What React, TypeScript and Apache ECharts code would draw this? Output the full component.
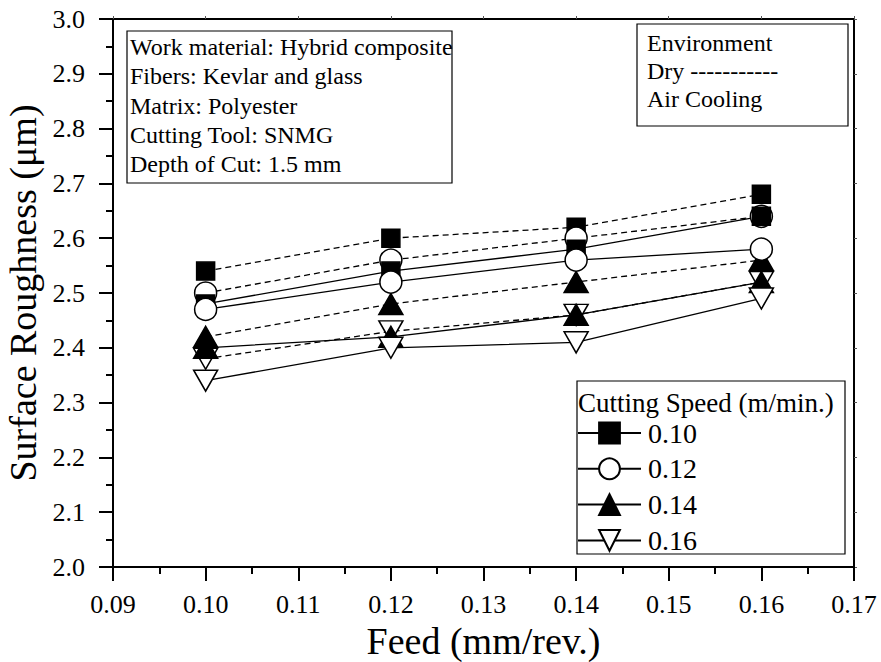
import React, { useEffect, useRef } from "react";
import * as echarts from "echarts";

const feeds = [0.10, 0.12, 0.14, 0.16];
const speedLabels = ["0.10", "0.12", "0.14", "0.16"];

// Dry (dashed)
const dry010 = [2.54, 2.60, 2.62, 2.68];
const dry012 = [2.50, 2.56, 2.60, 2.64];
const dry014 = [2.42, 2.48, 2.52, 2.56];
const dry016 = [2.38, 2.43, 2.46, 2.52];
// Air cooling (solid)
const air010 = [2.48, 2.54, 2.58, 2.64];
const air012 = [2.47, 2.52, 2.56, 2.58];
const air014 = [2.40, 2.42, 2.46, 2.52];
const air016 = [2.34, 2.40, 2.41, 2.49];

const infoLines = [
  "Work material: Hybrid composite",
  "Fibers: Kevlar and glass",
  "Matrix: Polyester",
  "Cutting Tool: SNMG",
  "Depth of Cut: 1.5 mm",
];
const envLines = ["Environment", "Dry -----------", "Air Cooling"];
const legendTitle = "Cutting Speed (m/min.)";

const FONT = "Liberation Serif";

type Marker = { symbol: string; size: any; rotate: number; fill: string };
const markers: Marker[] = [
  { symbol: "rect", size: 18, rotate: 0, fill: "#000" },
  { symbol: "circle", size: 22, rotate: 0, fill: "#fff" },
  { symbol: "triangle", size: [24, 21], rotate: 0, fill: "#000" },
  { symbol: "triangle", size: [24, 21], rotate: 180, fill: "#fff" },
];

function makeSeries(name: string, values: number[], m: Marker, dashed: boolean) {
  return {
    name,
    type: "line",
    data: feeds.map((f, i) => [f, values[i]]),
    symbol: m.symbol,
    symbolSize: m.size,
    symbolRotate: m.rotate,
    showAllSymbol: true,
    lineStyle: { color: "#000", width: 1.3, type: dashed ? [6, 4] : "solid" },
    itemStyle: { color: m.fill, borderColor: "#000", borderWidth: 1.5, opacity: 1 },
    emphasis: { disabled: true },
  };
}

function txt(t: string, x: number, y: number, size: number) {
  return {
    type: "text",
    x,
    y,
    z: 10,
    style: {
      text: t,
      fontSize: size,
      fontFamily: FONT,
      fill: "#000",
      verticalAlign: "middle",
      align: "left",
    },
  };
}

export default function App() {
  const ref = useRef<HTMLDivElement>(null);
  useEffect(() => {
    if (!ref.current) return;
    const chart = echarts.init(ref.current, undefined, { renderer: "svg" });
    const dryArr = [dry010, dry012, dry014, dry016];
    const airArr = [air010, air012, air014, air016];
    const series: any[] = [];
    dryArr.forEach((v, i) => series.push(makeSeries(speedLabels[i] + " Dry", v, markers[i], true)));
    airArr.forEach((v, i) => series.push(makeSeries(speedLabels[i], v, markers[i], false)));

    const graphics: any[] = [];
    graphics.push({
      type: "rect",
      shape: { x: 127, y: 31, width: 325, height: 152 },
      style: { fill: "none", stroke: "#000", lineWidth: 1.2 },
      z: 10,
    });
    infoLines.forEach((t, i) => graphics.push(txt(t, 130, 47 + i * 29.3, 24)));
    graphics.push({
      type: "rect",
      shape: { x: 637, y: 24, width: 211, height: 102 },
      style: { fill: "none", stroke: "#000", lineWidth: 1.2 },
      z: 10,
    });
    envLines.forEach((t, i) => graphics.push(txt(t, 647, 43 + i * 28, 24)));
    graphics.push({
      type: "rect",
      shape: { x: 577, y: 381, width: 268, height: 173 },
      style: { fill: "#fff", stroke: "#000", lineWidth: 1.2 },
      z: 5,
    });
    graphics.push(txt(legendTitle, 578, 403, 27));

    const option: any = {
      animation: false,
      backgroundColor: "#fff",
      textStyle: { fontFamily: FONT },
      grid: { left: 113, right: 27, top: 19, bottom: 95, containLabel: false, outerBoundsMode: "none" },
      legend: {
        data: speedLabels,
        orient: "vertical",
        left: 577,
        top: 419,
        itemWidth: 63,
        itemHeight: 26,
        itemGap: 7.8,
        padding: 0,
        z: 20,
        textStyle: {
          fontSize: 28,
          fontFamily: FONT,
          color: "#000",
          padding: [0, 0, 0, 2],
        },
        selectedMode: false,
      },
      xAxis: [
        {
          type: "value",
          min: 0.09,
          max: 0.17,
          interval: 0.01,
          name: "Feed (mm/rev.)",
          nameLocation: "middle",
          nameGap: 53,
          nameTextStyle: { fontSize: 38, fontFamily: FONT, color: "#000" },
          axisLine: { show: true, onZero: false, lineStyle: { color: "#000", width: 2 } },
          axisTick: { show: true, inside: false, length: 14, lineStyle: { color: "#000", width: 2 } },
          minorTick: { show: true, splitNumber: 2, length: 7, lineStyle: { color: "#000", width: 2 } },
          axisLabel: {
            fontSize: 26,
            fontFamily: FONT,
            color: "#000",
            margin: 24,
            formatter: (v: number) => v.toFixed(2),
          },
          splitLine: { show: false },
        },
        {
          type: "value",
          position: "top",
          min: 0.09,
          max: 0.17,
          interval: 0.01,
          axisLine: { show: true, onZero: false, lineStyle: { color: "#000", width: 2 } },
          axisTick: { show: true, inside: false, length: 3, lineStyle: { color: "#555", width: 1 } },
          axisLabel: { show: false },
          splitLine: { show: false },
        },
      ],
      yAxis: [
        {
          type: "value",
          min: 2.0,
          max: 3.0,
          interval: 0.1,
          name: "Surface Roughness (\u03bcm)",
          nameLocation: "middle",
          nameGap: 61,
          nameTextStyle: { fontSize: 38, fontFamily: FONT, color: "#000" },
          axisLine: { show: true, onZero: false, lineStyle: { color: "#000", width: 2 } },
          axisTick: { show: true, inside: false, length: 14, lineStyle: { color: "#000", width: 2 } },
          minorTick: { show: true, splitNumber: 2, length: 7, lineStyle: { color: "#000", width: 2 } },
          axisLabel: {
            fontSize: 26,
            fontFamily: FONT,
            color: "#000",
            margin: 28,
            formatter: (v: number) => v.toFixed(1),
          },
          splitLine: { show: false },
        },
        {
          type: "value",
          position: "right",
          min: 2.0,
          max: 3.0,
          interval: 0.1,
          axisLine: { show: true, onZero: false, lineStyle: { color: "#000", width: 2 } },
          axisTick: { show: true, inside: false, length: 3, lineStyle: { color: "#555", width: 1 } },
          axisLabel: { show: false },
          splitLine: { show: false },
        },
      ],
      series,
      graphic: graphics,
    };
    chart.setOption(option);
    return () => chart.dispose();
  }, []);
  return (
    <div
      ref={ref}
      style={{ position: "absolute", left: 0, top: 0, width: 881, height: 662, background: "#fff" }}
    />
  );
}
